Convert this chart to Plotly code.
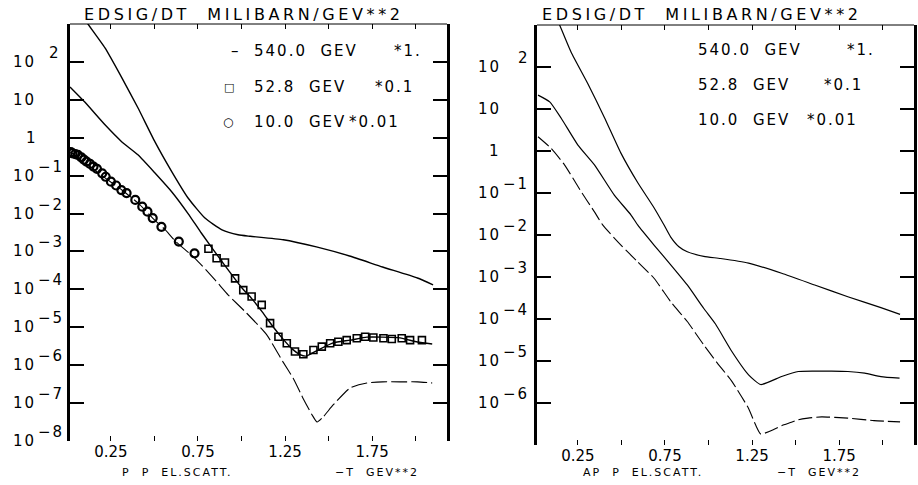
import numpy as np
import plotly.graph_objects as go

# ---------------------------------------------------------------------------
# Model curves: -t in GeV^2, log10 of E dsigma/dt in mb/GeV^2 (already scaled)
# ---------------------------------------------------------------------------
# p p elastic scattering
pp_540_t = [0.01, 0.118, 0.216, 0.313, 0.405, 0.503, 0.60, 0.693, 0.79, 0.888,
            0.98, 1.05, 1.24, 1.43, 1.62, 1.81, 2.01, 2.10]
pp_540_lg = [3.7, 3.0, 2.37, 1.58, 0.79, -0.11, -0.90, -1.59, -2.12, -2.43,
             -2.56, -2.60, -2.69, -2.88, -3.12, -3.41, -3.70, -3.88]

pp_528_t = [0.015, 0.10, 0.216, 0.313, 0.405, 0.503, 0.60, 0.693, 0.77, 0.888,
            1.0, 1.06, 1.12, 1.18, 1.24, 1.29, 1.336, 1.37, 1.43, 1.526, 1.624,
            1.72, 1.81, 1.91, 2.01, 2.095]
pp_528_lg = [1.34, 0.94, 0.34, -0.11, -0.45, -0.93, -1.43, -2.0, -2.52, -3.27,
             -3.95, -4.25, -4.60, -4.98, -5.32, -5.57, -5.72, -5.76, -5.62, -5.41,
             -5.34, -5.26, -5.26, -5.28, -5.39, -5.44]

pp_100_t = [0.015, 0.118, 0.216, 0.313, 0.405, 0.503, 0.56, 0.618, 0.733, 0.848,
            0.924, 1.03, 1.145, 1.239, 1.296, 1.353, 1.405, 1.434, 1.468, 1.526,
            1.624, 1.72, 1.81, 1.91, 2.01, 2.095]
pp_100_lg = [-0.37, -0.72, -1.06, -1.38, -1.72, -2.18, -2.42, -2.72, -3.18, -3.75,
             -4.15, -4.63, -5.20, -5.92, -6.34, -6.87, -7.31, -7.50, -7.37, -7.05,
             -6.60, -6.47, -6.44, -6.44, -6.44, -6.47]

# measured points, p p
data_100_t = [0.02, 0.03, 0.045, 0.06, 0.08, 0.095, 0.11, 0.13, 0.15, 0.17, 0.20,
              0.22, 0.25, 0.28, 0.31, 0.34, 0.39, 0.43, 0.46, 0.49, 0.54, 0.64, 0.73]
data_100_lg = [-0.38, -0.41, -0.43, -0.45, -0.52, -0.58, -0.63, -0.69, -0.76, -0.82,
               -0.94, -1.03, -1.16, -1.26, -1.38, -1.46, -1.64, -1.82, -1.95, -2.12,
               -2.35, -2.74, -3.05]

data_528_t = [0.81, 0.857, 0.905, 0.963, 1.01, 1.058, 1.116, 1.164, 1.212, 1.26,
              1.307, 1.355, 1.413, 1.461, 1.509, 1.556, 1.604, 1.662, 1.71, 1.757,
              1.815, 1.863, 1.92, 1.968, 2.036]
data_528_lg = [-2.93, -3.18, -3.29, -3.71, -4.02, -4.19, -4.41, -4.89, -5.25, -5.42,
               -5.64, -5.71, -5.60, -5.51, -5.42, -5.38, -5.34, -5.29, -5.25, -5.27,
               -5.29, -5.31, -5.29, -5.34, -5.34]

# anti-p p elastic scattering
ap_540_t = [0.10, 0.145, 0.211, 0.307, 0.402, 0.497, 0.593, 0.687, 0.743, 0.783,
            0.83, 0.878, 0.973, 1.069, 1.23, 1.42, 1.61, 1.80, 1.99, 2.10]
ap_540_lg = [3.45, 3.0, 2.35, 1.60, 0.80, -0.05, -0.75, -1.35, -1.75, -2.05,
             -2.28, -2.40, -2.51, -2.56, -2.67, -2.91, -3.19, -3.47, -3.73, -3.89]

ap_528_t = [0.021, 0.088, 0.154, 0.25, 0.345, 0.459, 0.554, 0.593, 0.687, 0.783,
            0.878, 0.973, 1.04, 1.135, 1.23, 1.30, 1.42, 1.516, 1.61, 1.707, 1.80,
            1.897, 1.99, 2.097]
ap_528_lg = [1.33, 1.17, 0.78, 0.14, -0.33, -1.05, -1.52, -1.76, -2.24, -2.71,
             -3.19, -3.75, -4.12, -4.78, -5.33, -5.56, -5.37, -5.25, -5.24, -5.24,
             -5.25, -5.29, -5.37, -5.41]

ap_100_t = [0.021, 0.097, 0.173, 0.269, 0.345, 0.392, 0.497, 0.593, 0.687, 0.783,
            0.878, 0.973, 1.045, 1.135, 1.23, 1.27, 1.30, 1.38, 1.42, 1.476, 1.516,
            1.571, 1.65, 1.80, 1.95, 2.10]
ap_100_lg = [0.34, 0.06, -0.33, -0.97, -1.45, -1.76, -2.24, -2.64, -3.03, -3.59,
             -4.06, -4.62, -5.02, -5.49, -6.13, -6.52, -6.74, -6.62, -6.54, -6.46,
             -6.40, -6.36, -6.33, -6.36, -6.42, -6.45]

# axis ticks and labels
t_ticks = [0.25, 0.5, 0.75, 1.0, 1.25, 1.5, 1.75, 2.0]
t_ticktext = ["0.25", "", "0.75", "", "1.25", "", "1.75", ""]
left_exponents = [2, 1, 0, -1, -2, -3, -4, -5, -6, -7, -8]
right_exponents = [2, 1, 0, -1, -2, -3, -4, -5, -6]

legend_energies = ["540.0 GEV", "52.8 GEV", "10.0 GEV"]
legend_factors = ["*1.", "*0.1", "*0.01"]

W, H = 918, 485
FONT = "DejaVu Sans"


def px(x):
    return x / W


def py(y):
    return 1 - y / H


def spaced(s, ls=2):
    return f'<span style="letter-spacing:{ls}px">{s}</span>'


def decade_ticks(lo, hi):
    major = [10.0 ** e for e in range(lo, hi + 1)]
    minor = [m * 10.0 ** e for e in range(lo, hi) for m in range(2, 10)]
    return major, minor


fig = go.Figure()


def curve(t, lg, xa, ya, width=1.4, dash="solid"):
    fig.add_trace(go.Scatter(
        x=t, y=np.power(10.0, lg), mode="lines", xaxis=xa, yaxis=ya,
        line=dict(color="black", width=width, dash=dash, shape="spline", smoothing=0.5),
        showlegend=False, hoverinfo="skip"))


def points(t, lg, symbol, size, xa, ya, lw=1.6):
    fig.add_trace(go.Scatter(
        x=t, y=np.power(10.0, lg), mode="markers", xaxis=xa, yaxis=ya,
        marker=dict(symbol=symbol, size=size, color="black",
                    line=dict(color="black", width=lw)),
        showlegend=False, hoverinfo="skip"))


# p p panel
curve(pp_540_t, pp_540_lg, "x", "y")
curve(pp_528_t, pp_528_lg, "x", "y")
curve(pp_100_t, pp_100_lg, "x", "y", width=1.1, dash="16px,4px")
points(data_100_t, data_100_lg, "circle-open", 8, "x", "y", lw=2.2)
points(data_528_t, data_528_lg, "square-open", 7, "x", "y")

# anti-p p panel
curve(ap_540_t, ap_540_lg, "x2", "y2", width=1.2)
curve(ap_528_t, ap_528_lg, "x2", "y2", width=1.2)
curve(ap_100_t, ap_100_lg, "x2", "y2", width=1.1, dash="14px,4px")

tick_font = dict(family=FONT, size=15, color="black")

xcommon = dict(range=[0.015, 2.18], tickmode="array", tickvals=t_ticks,
               ticktext=t_ticktext, ticks="inside", ticklen=5, tickwidth=1,
               tickcolor="black", showline=False, mirror="ticks",
               showgrid=False, zeroline=False, tickfont=tick_font)


def ymajor(lo, hi):
    major, _ = decade_ticks(lo, hi)
    return dict(type="log", range=[lo, hi], tickmode="array", tickvals=major,
                ticks="inside", ticklen=14, tickwidth=2, tickcolor="black",
                showline=True, linewidth=2.5, linecolor="black", mirror="ticks",
                showgrid=False, zeroline=False, showticklabels=False)


def yminor(lo, hi, over, anchor, domain):
    _, minor = decade_ticks(lo, hi)
    return dict(type="log", range=[lo, hi], overlaying=over, anchor=anchor,
                domain=domain, tickmode="array", tickvals=minor,
                ticks="inside", ticklen=7, tickwidth=1.2, tickcolor="black",
                showline=False, mirror="ticks", showgrid=False, zeroline=False,
                showticklabels=False)


ydom1 = [py(441), py(24)]
ydom2 = [py(445), py(25)]

fig.update_layout(
    width=W, height=H, margin=dict(l=0, r=0, t=0, b=0),
    paper_bgcolor="white", plot_bgcolor="white",
    xaxis=dict(domain=[px(70), px(447)], anchor="y", **xcommon),
    xaxis2=dict(domain=[px(537), px(914)], anchor="y2", **xcommon),
    yaxis=dict(domain=ydom1, anchor="x", **ymajor(-8, 3)),
    yaxis2=dict(domain=ydom2, anchor="x2", **ymajor(-7, 3)),
    yaxis3=yminor(-8, 3, "y", "x", ydom1),
    yaxis4=yminor(-7, 3, "y2", "x2", ydom2),
)

# top frame lines
for xr, yr in (("x domain", "y domain"), ("x2 domain", "y2 domain")):
    fig.add_shape(type="line", xref=xr, yref=yr, x0=0, x1=1, y0=1, y1=1,
                  line=dict(color="black", width=1))

ann = []


def text(x, y, s, size=15, xanchor="left", yref="paper", yshift=0, ls=2):
    ann.append(dict(x=x, y=y, xref="paper", yref=yref, text=spaced(s, ls),
                    showarrow=False, xanchor=xanchor, yanchor="middle",
                    yshift=yshift, font=dict(family=FONT, size=size, color="black")))


# decade labels drawn as 10 with a raised exponent
def decade_labels(exps, yref, base_x, pos_x, neg_x, one_x):
    for e in exps:
        if e == 0:
            text(px(one_x), e, "1", yref=yref)
        elif e == 1:
            text(px(base_x), e, "10", yref=yref)
        else:
            text(px(base_x), e, "10", yref=yref)
            lab = str(e) if e > 0 else "\u2212" + str(-e)
            text(px(pos_x if e > 0 else neg_x), e, lab, yref=yref, yshift=9)


decade_labels(left_exponents, "y", 11, 47, 36, 24)
decade_labels(right_exponents, "y2", 476, 516, 501, 487)

# headers
header = "EDSIG/DT\u00a0\u00a0MILIBARN/GEV**2"
text(px(82), py(14), header, size=16, ls=3.6)
text(px(540), py(14), header, size=16, ls=3.6)

# series keys, p p panel
rows_y = [51, 87, 122]
text(px(229), py(rows_y[0]), "\u2013", size=15, ls=0)
text(px(222), py(rows_y[1]), "\u25a1", size=11, ls=0)
text(px(221), py(rows_y[2]), "\u25cb", size=12, ls=0)
for (e, f, yy, fx) in zip(legend_energies, legend_factors, rows_y, [392, 373, 347]):
    text(px(252), py(yy), e.replace(" ", "\u00a0\u00a0"), size=15)
    text(px(fx), py(yy), f, size=15)

# series keys, anti-p p panel
rows_y2 = [50, 85, 120]
for (e, f, yy, fx) in zip(legend_energies, legend_factors, rows_y2, [845, 822, 805]):
    text(px(696), py(yy), e.replace(" ", "\u00a0\u00a0"), size=15)
    text(px(fx), py(yy), f, size=15)

# axis captions
cap_y = 472
text(px(120), py(cap_y), "P\u00a0\u00a0P\u00a0\u00a0EL.SCATT.", size=11, ls=2)
text(px(333), py(cap_y), "\u2212T\u00a0\u00a0GEV**2", size=11, ls=2)
text(px(581), py(cap_y), "AP\u00a0\u00a0P\u00a0\u00a0EL.SCATT.", size=11, ls=2)
text(px(775), py(cap_y), "\u2212T\u00a0\u00a0GEV**2", size=11, ls=2)

fig.update_layout(annotations=ann)

fig.write_html("out.html")
